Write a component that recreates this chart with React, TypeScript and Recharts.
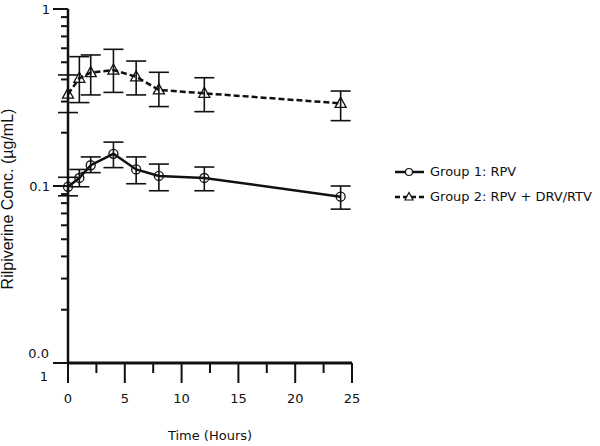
import { LineChart, Line, XAxis, YAxis, ErrorBar, Legend } from "recharts"

// sampling times (hours)
const hours = [0, 1, 2, 4, 6, 8, 12, 24]

// Group 1: RPV — mean and error bar limits (µg/mL)
const g1Mean = [0.099, 0.111, 0.131, 0.152, 0.124, 0.114, 0.111, 0.087]
const g1Low = [0.088, 0.099, 0.119, 0.127, 0.103, 0.094, 0.094, 0.074]
const g1High = [0.112, 0.124, 0.146, 0.177, 0.146, 0.133, 0.128, 0.1]

// Group 2: RPV + DRV/RTV
const g2Mean = [0.33, 0.406, 0.437, 0.452, 0.414, 0.349, 0.334, 0.293]
const g2Low = [0.26, 0.296, 0.327, 0.338, 0.327, 0.281, 0.263, 0.234]
const g2High = [0.424, 0.538, 0.55, 0.592, 0.508, 0.439, 0.409, 0.344]

const xTicks = [0, 2.5, 5, 7.5, 10, 12.5, 15, 17.5, 20, 22.5, 25]
const yTicks = [
  0.01, 0.02, 0.03, 0.04, 0.05, 0.06, 0.07, 0.08, 0.09,
  0.1, 0.2, 0.3, 0.4, 0.5, 0.6, 0.7, 0.8, 0.9, 1,
]
// the bottom label wraps in the original figure
const yTickLabels: Record<string, string[]> = {
  "1": ["1"],
  "0.1": ["0.1"],
  "0.01": ["0.0", "1"],
}

const legendItems = [
  { name: "Group 1: RPV", dashed: false, marker: "circle" },
  { name: "Group 2: RPV + DRV/RTV", dashed: true, marker: "triangle" },
]

const data = hours.map((t, i) => ({
  t,
  g1: g1Mean[i],
  g1Err: [g1Mean[i] - g1Low[i], g1High[i] - g1Mean[i]],
  g2: g2Mean[i],
  g2Err: [g2Mean[i] - g2Low[i], g2High[i] - g2Mean[i]],
}))

const TICK_FONT = "'DejaVu Sans', Verdana, sans-serif"
const INK = "#111"

function XTick({ x, y, payload }: any) {
  const major = payload.value % 5 === 0
  return (
    <g>
      <line x1={x} x2={x} y1={y} y2={y + (major ? 20 : 10)} stroke={INK} strokeWidth={2} />
      {major && (
        <text x={x} y={y + 40} textAnchor="middle" fontFamily={TICK_FONT} fontSize={13} fill={INK}>
          {payload.value}
        </text>
      )}
    </g>
  )
}

function YTick({ x, y, payload }: any) {
  const lg = Math.log10(payload.value)
  const major = Math.abs(lg - Math.round(lg)) < 1e-6
  const lines = major ? yTickLabels[String(Math.pow(10, Math.round(lg)))] ?? [] : []
  return (
    <g>
      <line x1={x - (major ? 15 : 7)} x2={x} y1={y} y2={y} stroke={INK} strokeWidth={2} />
      {lines.length === 1 && (
        <text x={x - 18} y={y + 4.5} textAnchor="end" fontFamily={TICK_FONT} fontSize={13} fill={INK}>
          {lines[0]}
        </text>
      )}
      {lines.length === 2 && (
        <text textAnchor="end" fontFamily={TICK_FONT} fontSize={13} fill={INK}>
          <tspan x={x - 19} y={y - 5}>{lines[0]}</tspan>
          <tspan x={x - 20} y={y + 18}>{lines[1]}</tspan>
        </text>
      )}
    </g>
  )
}

function YLabel() {
  return (
    <text
      transform="translate(13,199) rotate(-90)"
      textAnchor="middle"
      fontFamily="'Liberation Sans', Arial, sans-serif"
      fontSize={16}
      fill={INK}
    >
      Rilpiverine Conc. (µg/mL)
    </text>
  )
}

function TriangleDot({ cx, cy }: any) {
  if (cx == null || cy == null) return null
  return (
    <path
      d={`M${cx},${cy - 6} L${cx + 5.5},${cy + 4} L${cx - 5.5},${cy + 4} Z`}
      fill="none"
      stroke={INK}
      strokeWidth={1.3}
    />
  )
}

function LegendContent() {
  return (
    <div style={{ width: 230, fontFamily: TICK_FONT, fontSize: 13, color: INK }}>
      {legendItems.map((it) => (
        <div key={it.name} style={{ display: "flex", alignItems: "center", height: 25 }}>
          <svg width={35} height={14} style={{ display: "block" }}>
            <line
              x1={0} x2={29} y1={7} y2={7}
              stroke={INK} strokeWidth={2.5}
              strokeDasharray={it.dashed ? "5 3" : undefined}
            />
            {it.marker === "circle" ? (
              <circle cx={14} cy={7} r={3.5} fill="#fff" stroke={INK} strokeWidth={1.2} />
            ) : (
              <path d="M14,2.5 L18,10 L10,10 Z" fill="#fff" stroke={INK} strokeWidth={1.2} />
            )}
          </svg>
          <span style={{ whiteSpace: "nowrap" }}>{it.name}</span>
        </div>
      ))}
    </div>
  )
}

export default function App() {
  return (
    <div style={{ position: "absolute", left: 0, top: 0, background: "#fff" }}>
      <LineChart width={600} height={446} data={data} margin={{ top: 9, right: 248, bottom: 0, left: 0 }}>
        <XAxis
          dataKey="t" type="number" domain={[0, 25]} ticks={xTicks} interval={0}
          tick={<XTick />} tickLine={false} tickSize={0} tickMargin={0} height={83}
          axisLine={{ stroke: INK, strokeWidth: 3 }}
          label={{
            value: "Time (Hours)", position: "insideBottom", offset: 6,
            style: { fontFamily: TICK_FONT, fontSize: 13, fill: INK },
          }}
        />
        <YAxis
          scale="log" domain={[0.01, 1]} allowDataOverflow ticks={yTicks} interval={0}
          tick={<YTick />} tickLine={false} tickSize={0} tickMargin={0} width={68}
          axisLine={{ stroke: INK, strokeWidth: 2.5 }}
          label={<YLabel />}
        />
        <Legend
          content={<LegendContent />}
          wrapperStyle={{ left: 395, top: 159, width: 0, height: 0 }}
        />
        <Line
          dataKey="g1" stroke={INK} strokeWidth={2.5} isAnimationActive={false}
          dot={{ r: 4.5, fill: "none", stroke: INK, strokeWidth: 1.3 }}
        >
          <ErrorBar dataKey="g1Err" width={10} stroke={INK} strokeWidth={1.6} isAnimationActive={false} />
        </Line>
        <Line
          dataKey="g2" stroke={INK} strokeWidth={2.5} strokeDasharray="6 3" isAnimationActive={false}
          dot={<TriangleDot />}
        >
          <ErrorBar dataKey="g2Err" width={10} stroke={INK} strokeWidth={1.6} isAnimationActive={false} />
        </Line>
      </LineChart>
    </div>
  )
}
